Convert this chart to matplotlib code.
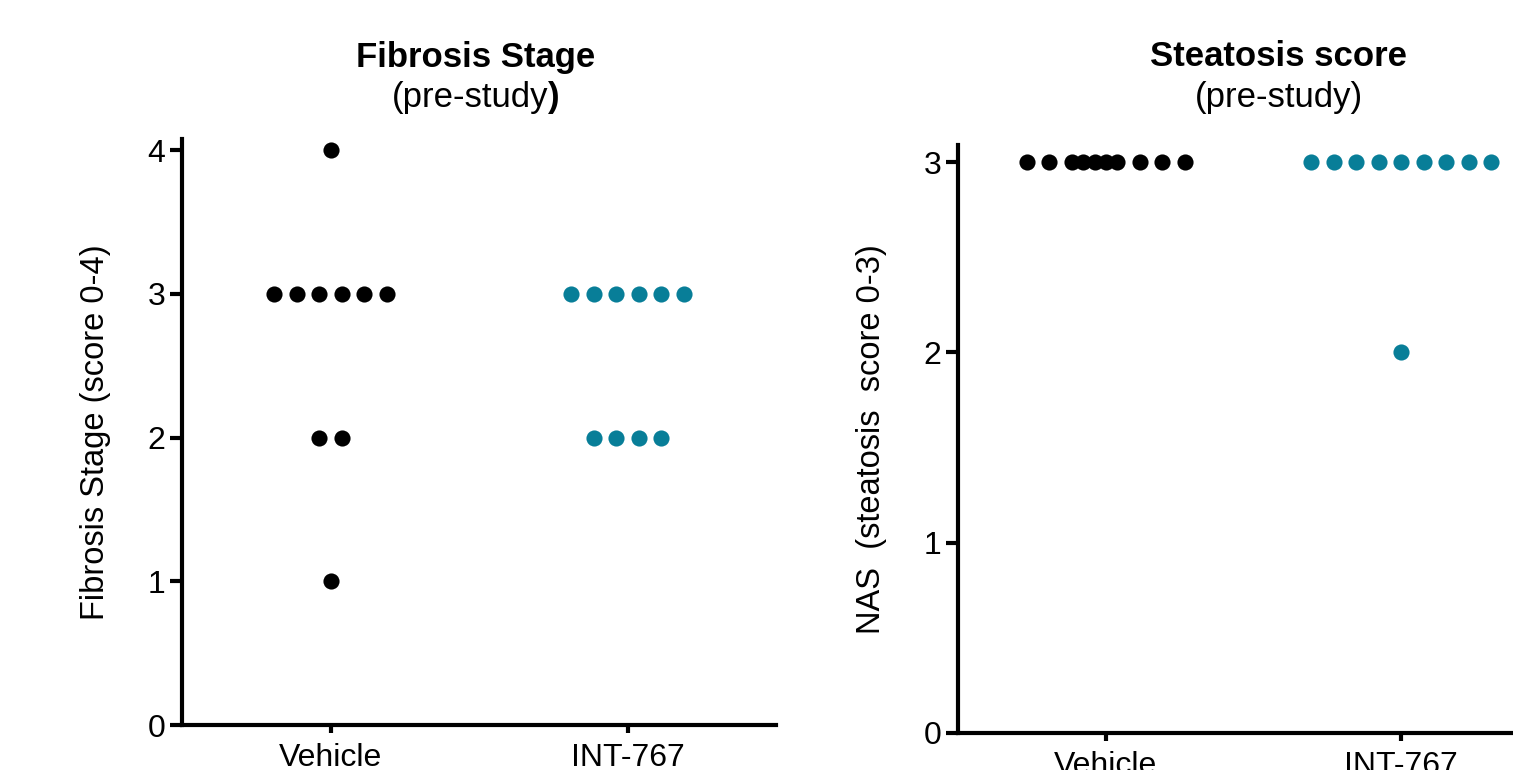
import numpy as np
import matplotlib
matplotlib.use('Agg')
import matplotlib.pyplot as plt

plt.rcParams['font.family'] = ['Liberation Sans', 'DejaVu Sans']

# Данные: баллы отдельных животных до начала исследования
groups = ['Vehicle', 'INT-767']
fibrosis_vehicle = [4, 3, 3, 3, 3, 3, 3, 2, 2, 1]
fibrosis_int767 = [3, 3, 3, 3, 3, 3, 2, 2, 2, 2]
steatosis_vehicle = [3, 3, 3, 3, 3, 3, 3, 3, 3, 3]
steatosis_int767 = [3, 3, 3, 3, 3, 3, 3, 3, 3, 2]

colors = ['#000000', '#087E98']

# раскладка точек в строке (в ширинах точки), как у GraphPad для плотной строки
packed_rows = {10: [-3.5, -2.5, -1.5, -1, -0.5, 0, 0.5, 1.5, 2.5, 3.5]}

TICK_FS = 23
LABEL_FS = 23.5
TITLE_FS = 25


def spread(values, center, step):
    """x-координаты точек: одинаковые значения раскладываются в строку."""
    values = np.asarray(values)
    xs = np.zeros(len(values), dtype=float)
    for v in np.unique(values):
        idx = np.where(values == v)[0]
        n = len(idx)
        offs = packed_rows.get(n, np.arange(n) - (n - 1) / 2)
        xs[idx] = center + np.asarray(offs) * step
    return xs


def style_axes(ax, ymax, yticks):
    ax.set_xlim(-0.5, 1.5)
    ax.set_ylim(0, ymax)
    ax.set_xticks(range(len(groups)))
    ax.set_xticklabels(groups)
    ax.set_yticks(yticks)
    for side in ['top', 'right']:
        ax.spines[side].set_visible(False)
    for side in ['left', 'bottom']:
        ax.spines[side].set_linewidth(3)
    ax.spines['bottom'].set_capstyle('projecting')
    ax.tick_params(axis='y', length=9, width=3, labelsize=TICK_FS, pad=3)
    ax.tick_params(axis='x', length=6, width=3, labelsize=TICK_FS, pad=7)
    ax.set_facecolor('none')


fig = plt.figure(figsize=(15.13, 7.70), dpi=100)

# Левая панель: стадия фиброза
ax1 = fig.add_axes([0.1203, 0.0584, 0.3926, 0.7617])
step = 22.5 / 296
for i, vals in enumerate([fibrosis_vehicle, fibrosis_int767]):
    ax1.scatter(spread(vals, i, step), vals, s=135, color=colors[i],
                linewidths=0, zorder=3, clip_on=False)
style_axes(ax1, 4.08, [0, 1, 2, 3, 4])
ax1.set_ylabel('Fibrosis Stage (score 0-4)', fontsize=LABEL_FS, labelpad=26)

# Правая панель: стеатоз
ax2 = fig.add_axes([0.6332, 0.0481, 0.3906, 0.7636])
step = 22.5 / 295
for i, vals in enumerate([steatosis_vehicle, steatosis_int767]):
    ax2.scatter(spread(vals, i, step), vals, s=135, color=colors[i],
                linewidths=0, zorder=3, clip_on=False)
style_axes(ax2, 3.09, [0, 1, 2, 3])
ax2.set_ylabel('NAS  (steatosis  score 0-3)', fontsize=LABEL_FS, labelpad=26)

# Заголовки
fig.text(476 / 1513, 1 - 57 / 770, 'Fibrosis Stage', ha='center', va='center',
         fontsize=TITLE_FS, fontweight='bold')
sub = fig.text(470 / 1513, 1 - 97 / 770, '(pre-study', ha='center', va='center',
               fontsize=TITLE_FS)
# закрывающая скобка в оригинале набрана жирным
ax1.annotate(')', xy=(1, 0), xycoords=sub, ha='left', va='bottom',
             fontsize=TITLE_FS, fontweight='bold', annotation_clip=False)

fig.text(1279 / 1513, 1 - 57 / 770, 'Steatosis score', ha='center', va='center',
         fontsize=TITLE_FS, fontweight='bold')
fig.text(1279 / 1513, 1 - 97 / 770, '(pre-study)', ha='center', va='center',
         fontsize=TITLE_FS)

fig.savefig('out.png', dpi=100)
